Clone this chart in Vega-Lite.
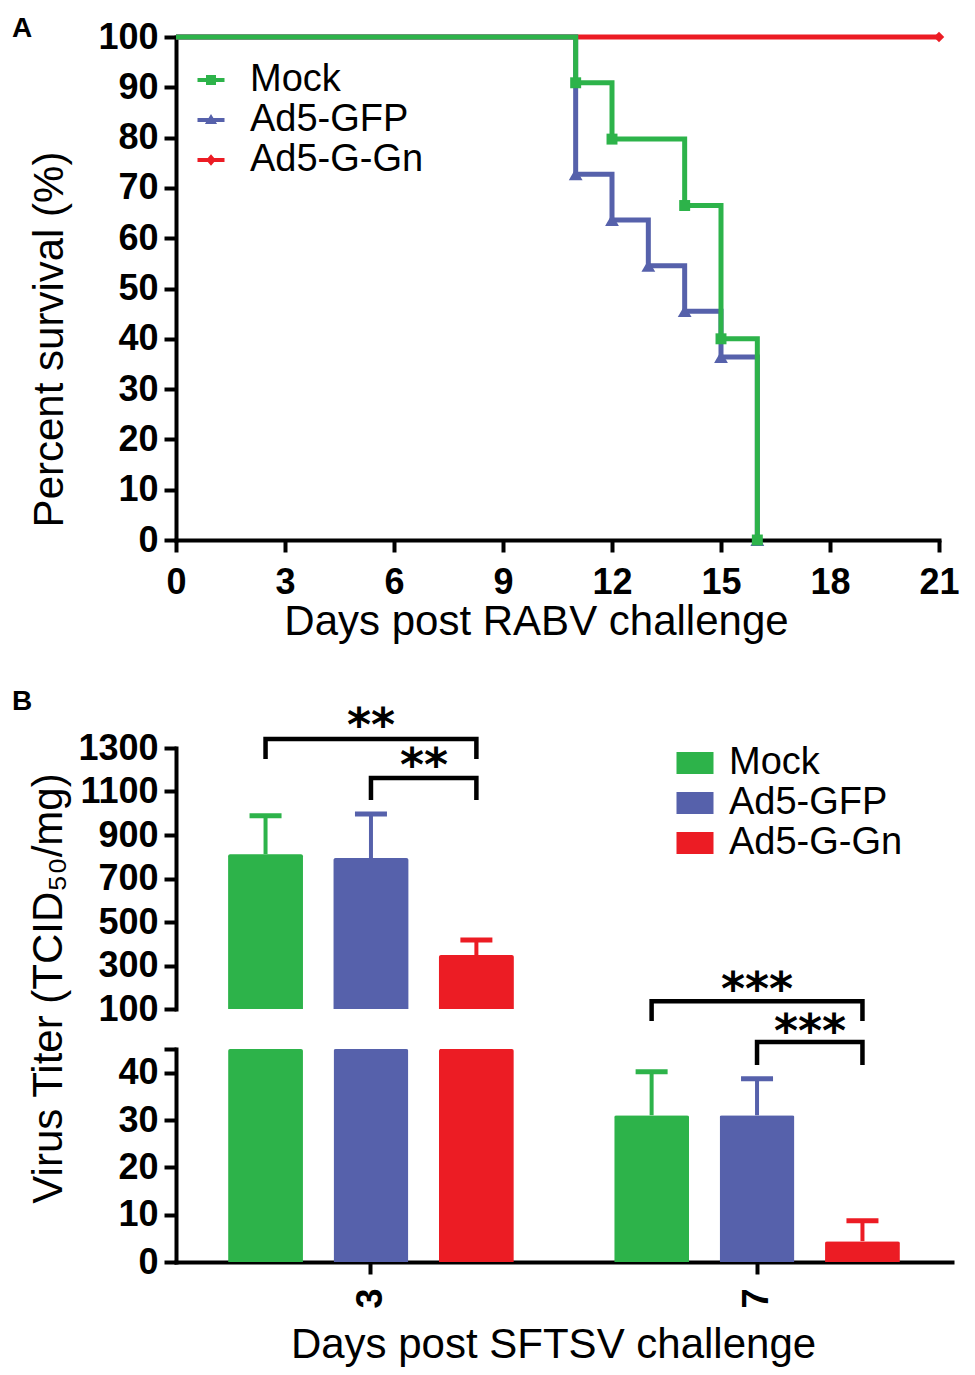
{
  "$schema": "https://vega.github.io/schema/vega-lite/v6.json",
  "background": "white",
  "padding": {"left": 12, "top": 15, "right": 5, "bottom": 5},
  "datasets": {
    "survival": [
      {"group": "Ad5-G-Gn", "day": 0, "pct": 100},
      {"group": "Ad5-G-Gn", "day": 21, "pct": 100},
      {"group": "Ad5-GFP", "day": 0, "pct": 100},
      {"group": "Ad5-GFP", "day": 11, "pct": 72.7},
      {"group": "Ad5-GFP", "day": 12, "pct": 63.6},
      {"group": "Ad5-GFP", "day": 13, "pct": 54.5},
      {"group": "Ad5-GFP", "day": 14, "pct": 45.5},
      {"group": "Ad5-GFP", "day": 15, "pct": 36.4},
      {"group": "Ad5-GFP", "day": 16, "pct": 0},
      {"group": "Mock", "day": 0, "pct": 100},
      {"group": "Mock", "day": 11, "pct": 90.9},
      {"group": "Mock", "day": 12, "pct": 79.7},
      {"group": "Mock", "day": 14, "pct": 66.5},
      {"group": "Mock", "day": 15, "pct": 40},
      {"group": "Mock", "day": 16, "pct": 0}
    ],
    "titer": [
      {"day": 3, "group": "Mock", "titer": 812, "upper": 988},
      {"day": 3, "group": "Ad5-GFP", "titer": 794, "upper": 997},
      {"day": 3, "group": "Ad5-G-Gn", "titer": 348, "upper": 417},
      {"day": 7, "group": "Mock", "titer": 31, "upper": 40.2},
      {"day": 7, "group": "Ad5-GFP", "titer": 31, "upper": 38.7},
      {"day": 7, "group": "Ad5-G-Gn", "titer": 4.4, "upper": 8.7}
    ],
    "brackets": [
      {"id": "b3w", "day": 3, "group": "Mock", "level": 1249, "ord": 1},
      {"id": "b3w", "day": 3, "group": "Mock", "level": 1341, "ord": 2},
      {"id": "b3w", "day": 3, "group": "Ad5-G-Gn", "level": 1341, "ord": 3},
      {"id": "b3w", "day": 3, "group": "Ad5-G-Gn", "level": 1249, "ord": 4},
      {"id": "b3n", "day": 3, "group": "Ad5-GFP", "level": 1061, "ord": 1},
      {"id": "b3n", "day": 3, "group": "Ad5-GFP", "level": 1162, "ord": 2},
      {"id": "b3n", "day": 3, "group": "Ad5-G-Gn", "level": 1162, "ord": 3},
      {"id": "b3n", "day": 3, "group": "Ad5-G-Gn", "level": 1061, "ord": 4},
      {"id": "b7w", "day": 7, "group": "Mock", "level": 50.9, "ord": 1},
      {"id": "b7w", "day": 7, "group": "Mock", "level": 55.1, "ord": 2},
      {"id": "b7w", "day": 7, "group": "Ad5-G-Gn", "level": 55.1, "ord": 3},
      {"id": "b7w", "day": 7, "group": "Ad5-G-Gn", "level": 50.9, "ord": 4},
      {"id": "b7n", "day": 7, "group": "Ad5-GFP", "level": 41.6, "ord": 1},
      {"id": "b7n", "day": 7, "group": "Ad5-GFP", "level": 46.5, "ord": 2},
      {"id": "b7n", "day": 7, "group": "Ad5-G-Gn", "level": 46.5, "ord": 3},
      {"id": "b7n", "day": 7, "group": "Ad5-G-Gn", "level": 41.6, "ord": 4}
    ],
    "stars": [
      {"day": 3, "group": "Ad5-GFP", "level": 1332, "label": "**", "span": "wide"},
      {"day": 3, "group": "Ad5-GFP", "level": 1148, "label": "**", "span": "narrow"},
      {"day": 7, "group": "Ad5-GFP", "level": 54.3, "label": "***", "span": "wide"},
      {"day": 7, "group": "Ad5-GFP", "level": 45.4, "label": "***", "span": "narrow"}
    ]
  },
  "spacing": 46,
  "resolve": {"scale": {"color": "independent", "shape": "independent", "x": "independent", "y": "independent"}},
  "vconcat": [
    {
      "width": 763,
      "height": 503,
      "title": {"text": "A", "anchor": "start", "frame": "group", "dx": -164, "offset": -46, "baseline": "alphabetic", "fontSize": 28, "fontWeight": "bold", "font": "Liberation Sans", "color": "black"},
      "data": {"name": "survival"},
      "encoding": {
        "x": {
          "field": "day", "type": "quantitative",
          "scale": {"domain": [0, 21], "nice": false, "zero": false},
          "axis": {"values": [0, 3, 6, 9, 12, 15, 18, 21], "title": "Days post RABV challenge", "labelPadding": 13, "titlePadding": 1, "titleX": 360, "labelFlush": false, "labelOverlap": false}
        },
        "y": {
          "field": "pct", "type": "quantitative",
          "scale": {"domain": [0, 100], "nice": false},
          "axis": {"values": [0, 10, 20, 30, 40, 50, 60, 70, 80, 90, 100], "title": "Percent survival (%)", "titleY": 302, "labelPadding": 6, "titlePadding": 26, "labelOverlap": false}
        }
      },
      "layer": [
        {"transform": [{"filter": "datum.group === 'Ad5-G-Gn'"}], "mark": {"type": "line", "interpolate": "step-after", "strokeWidth": 5, "color": "#ec1c24"}},
        {"transform": [{"filter": "datum.group === 'Ad5-GFP'"}], "mark": {"type": "line", "interpolate": "step-after", "strokeWidth": 5, "color": "#5661ab"}},
        {"transform": [{"filter": "datum.group === 'Mock'"}], "mark": {"type": "line", "interpolate": "step-after", "strokeWidth": 5, "color": "#2db34a"}},
        {"transform": [{"filter": "datum.group === 'Ad5-G-Gn' && datum.day > 0"}], "mark": {"type": "point", "shape": "diamond", "filled": true, "opacity": 1, "size": 110, "color": "#ec1c24"}},
        {"transform": [{"filter": "datum.group === 'Ad5-GFP' && datum.day > 0"}], "mark": {"type": "point", "shape": "triangle-up", "filled": true, "opacity": 1, "size": 190, "color": "#5661ab"}},
        {"transform": [{"filter": "datum.group === 'Mock' && datum.day > 0"}], "mark": {"type": "point", "shape": "square", "filled": true, "opacity": 1, "size": 120, "color": "#2db34a"}},
        {
          "transform": [{"filter": "false"}],
          "mark": {"type": "point", "filled": true, "opacity": 1},
          "encoding": {
            "color": {
              "field": "group", "type": "nominal",
              "scale": {"domain": ["Mock", "Ad5-GFP", "Ad5-G-Gn"], "range": ["#2db34a", "#5661ab", "#ec1c24"]},
              "legend": {
                "orient": "none", "legendX": 16, "legendY": 24, "title": null,
                "labelFontSize": 38, "labelFont": "Liberation Sans", "labelFontWeight": "normal", "labelColor": "black", "labelLimit": 0,
                "symbolSize": 729, "labelOffset": 20, "rowPadding": 2, "symbolOpacity": 1, "symbolStrokeWidth": 0
              }
            },
            "shape": {
              "field": "group", "type": "nominal",
              "scale": {"domain": ["Mock", "Ad5-GFP", "Ad5-G-Gn"], "range": [
                "M-1,-0.14H1V0.14H-1Z M-0.37,-0.37H0.37V0.37H-0.37Z",
                "M-1,-0.14H1V0.14H-1Z M0,-0.45L0.45,0.3H-0.45Z",
                "M-1,-0.14H1V0.14H-1Z M0,-0.42L0.36,0L0,0.42L-0.36,0Z"
              ]},
              "legend": {
                "orient": "none", "legendX": 16, "legendY": 24, "title": null,
                "labelFontSize": 38, "labelFont": "Liberation Sans", "labelFontWeight": "normal", "labelColor": "black", "labelLimit": 0,
                "symbolSize": 729, "labelOffset": 20, "rowPadding": 2, "symbolOpacity": 1, "symbolStrokeWidth": 0
              }
            }
          }
        }
      ]
    },
    {
      "spacing": 40,
      "bounds": "flush",
      "resolve": {"scale": {"color": "independent", "x": "independent", "y": "independent", "xOffset": "independent"}},
      "vconcat": [
        {
          "width": 776,
          "height": 261,
          "title": {"text": "B", "anchor": "start", "frame": "group", "dx": -164, "offset": -34, "baseline": "alphabetic", "fontSize": 28, "fontWeight": "bold", "font": "Liberation Sans", "color": "black"},
          "encoding": {
            "x": {"field": "day", "type": "ordinal", "scale": {"domain": [3, 7], "paddingInner": 0.26, "paddingOuter": 0.135}, "axis": null},
            "xOffset": {"field": "group", "type": "nominal", "scale": {"domain": ["Mock", "Ad5-GFP", "Ad5-G-Gn"], "paddingInner": 0.29, "paddingOuter": 0}}
          },
          "layer": [
            {
              "data": {"name": "titer"},
              "transform": [{"filter": "datum.day === 3"}],
              "mark": {"type": "bar", "cornerRadiusTopLeft": 2, "cornerRadiusTopRight": 2},
              "encoding": {
                "y": {
                  "field": "titer", "type": "quantitative",
                  "scale": {"domain": [100, 1300], "nice": false, "zero": false},
                  "axis": {"values": [100, 300, 500, 700, 900, 1100, 1300], "format": "d", "title": null, "labelPadding": 6, "labelOverlap": false,
                    "encode": {"ticks": {"update": {"x": {"signal": "datum.value == 100 ? 12 : 0"}}}}}
                },
                "y2": {"datum": 100},
                "color": {
                  "field": "group", "type": "nominal",
                  "scale": {"domain": ["Mock", "Ad5-GFP", "Ad5-G-Gn"], "range": ["#2db34a", "#5661ab", "#ec1c24"]},
                  "legend": {
                    "orient": "none", "legendX": 500, "legendY": -4, "title": null,
                    "labelFontSize": 38, "labelFont": "Liberation Sans", "labelFontWeight": "normal", "labelColor": "black", "labelLimit": 0,
                    "symbolType": "M-1,-0.6H1V0.6H-1Z", "symbolSize": 1369, "labelOffset": 15, "rowPadding": 2, "symbolOpacity": 1, "symbolStrokeWidth": 0
                  }
                }
              }
            },
            {
              "data": {"name": "titer"},
              "transform": [{"filter": "datum.day === 3"}],
              "mark": {"type": "rule", "strokeWidth": 4},
              "encoding": {
                "y": {"field": "titer", "type": "quantitative"},
                "y2": {"field": "upper"},
                "color": {"field": "group", "type": "nominal", "legend": null}
              }
            },
            {
              "data": {"name": "titer"},
              "transform": [{"filter": "datum.day === 3"}],
              "mark": {"type": "tick", "size": 32, "thickness": 5, "opacity": 1},
              "encoding": {
                "y": {"field": "upper", "type": "quantitative"},
                "color": {"field": "group", "type": "nominal", "legend": null}
              }
            },
            {
              "data": {"name": "brackets"},
              "transform": [{"filter": "datum.day === 3"}],
              "mark": {"type": "line", "strokeWidth": 4.5, "color": "black", "strokeJoin": "miter"},
              "encoding": {
                "y": {"field": "level", "type": "quantitative"},
                "detail": {"field": "id"},
                "order": {"field": "ord"}
              }
            },
            {
              "data": {"name": "stars"},
              "transform": [{"filter": "datum.day === 3 && datum.span === 'wide'"}],
              "mark": {"type": "text", "font": "DejaVu Sans", "fontWeight": "bold", "fontSize": 46, "baseline": "alphabetic", "align": "center", "color": "black"},
              "encoding": {"y": {"field": "level", "type": "quantitative"}, "text": {"field": "label"}}
            },
            {
              "data": {"name": "stars"},
              "transform": [{"filter": "datum.day === 3 && datum.span === 'narrow'"}],
              "mark": {"type": "text", "font": "DejaVu Sans", "fontWeight": "bold", "fontSize": 46, "baseline": "alphabetic", "align": "center", "color": "black", "dx": 53},
              "encoding": {"y": {"field": "level", "type": "quantitative"}, "text": {"field": "label"}}
            }
          ]
        },
        {
          "width": 776,
          "height": 213,
          "resolve": {"scale": {"y": "independent"}, "axis": {"y": "independent"}},
          "encoding": {
            "x": {"field": "day", "type": "ordinal", "scale": {"domain": [3, 7], "paddingInner": 0.26, "paddingOuter": 0.135},
              "axis": {"title": "Days post SFTSV challenge", "labelAngle": 270, "labelPadding": 14, "titlePadding": 16, "titleX": 377}},
            "xOffset": {"field": "group", "type": "nominal", "scale": {"domain": ["Mock", "Ad5-GFP", "Ad5-G-Gn"], "paddingInner": 0.29, "paddingOuter": 0}}
          },
          "layer": [
            {
              "data": {"name": "titer"},
              "mark": {"type": "bar", "cornerRadiusTopLeft": 2, "cornerRadiusTopRight": 2},
              "encoding": {
                "y": {
                  "field": "titer", "type": "quantitative",
                  "scale": {"domain": [0, 45], "nice": false, "clamp": true},
                  "axis": {"orient": "left", "values": [0, 10, 20, 30, 40, 45], "labelExpr": "datum.value == 45 ? '' : datum.label",
                    "title": "Virus Titer (TCID₅₀/mg)", "titleY": -61, "titleX": -128, "titleBaseline": "middle", "titleAlign": "center",
                    "labelPadding": 6, "labelOverlap": false,
                    "encode": {"ticks": {"update": {"x": {"signal": "datum.value == 45 ? 12 : 0"}}}}}
                },
                "color": {
                  "field": "group", "type": "nominal",
                  "scale": {"domain": ["Mock", "Ad5-GFP", "Ad5-G-Gn"], "range": ["#2db34a", "#5661ab", "#ec1c24"]},
                  "legend": null
                }
              }
            },
            {
              "data": {"name": "titer"},
              "transform": [{"filter": "datum.day === 7"}],
              "mark": {"type": "rule", "strokeWidth": 4},
              "encoding": {
                "y": {"field": "titer", "type": "quantitative", "scale": {"domain": [0, 45], "nice": false}, "axis": null},
                "y2": {"field": "upper"},
                "color": {"field": "group", "type": "nominal", "legend": null}
              }
            },
            {
              "data": {"name": "titer"},
              "transform": [{"filter": "datum.day === 7"}],
              "mark": {"type": "tick", "size": 32, "thickness": 5, "opacity": 1},
              "encoding": {
                "y": {"field": "upper", "type": "quantitative", "scale": {"domain": [0, 45], "nice": false}, "axis": null},
                "color": {"field": "group", "type": "nominal", "legend": null}
              }
            },
            {
              "data": {"name": "brackets"},
              "transform": [{"filter": "datum.day === 7"}],
              "mark": {"type": "line", "strokeWidth": 4.5, "color": "black", "strokeJoin": "miter"},
              "encoding": {
                "y": {"field": "level", "type": "quantitative", "scale": {"domain": [0, 45], "nice": false}, "axis": null},
                "detail": {"field": "id"},
                "order": {"field": "ord"}
              }
            },
            {
              "data": {"name": "stars"},
              "transform": [{"filter": "datum.day === 7 && datum.span === 'wide'"}],
              "mark": {"type": "text", "font": "DejaVu Sans", "fontWeight": "bold", "fontSize": 46, "baseline": "alphabetic", "align": "center", "color": "black"},
              "encoding": {"y": {"field": "level", "type": "quantitative", "scale": {"domain": [0, 45], "nice": false}, "axis": null}, "text": {"field": "label"}}
            },
            {
              "data": {"name": "stars"},
              "transform": [{"filter": "datum.day === 7 && datum.span === 'narrow'"}],
              "mark": {"type": "text", "font": "DejaVu Sans", "fontWeight": "bold", "fontSize": 46, "baseline": "alphabetic", "align": "center", "color": "black", "dx": 53},
              "encoding": {"y": {"field": "level", "type": "quantitative", "scale": {"domain": [0, 45], "nice": false}, "axis": null}, "text": {"field": "label"}}
            }
          ]
        }
      ]
    }
  ],
  "config": {
    "view": {"stroke": null},
    "font": "Liberation Sans",
    "axis": {
      "domainColor": "black", "domainWidth": 4, "domainCap": "square",
      "tickColor": "black", "tickWidth": 4, "tickSize": 12,
      "labelColor": "black", "labelFont": "Liberation Sans", "labelFontWeight": "bold", "labelFontSize": 36,
      "titleColor": "black", "titleFont": "Liberation Sans", "titleFontWeight": "normal", "titleFontSize": 42,
      "grid": false
    }
  }
}
